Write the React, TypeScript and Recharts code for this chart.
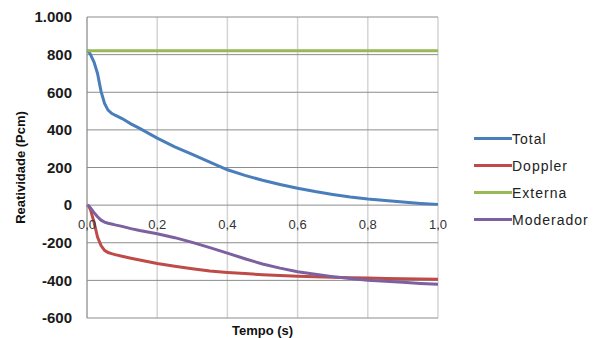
import React from 'react'
import {
  LineChart,
  Line,
  XAxis,
  YAxis,
  CartesianGrid,
  Legend,
} from 'recharts'

// tempo (s)
const tempo = [
  0, 0.005, 0.01, 0.02, 0.03, 0.04, 0.05, 0.06, 0.07, 0.08, 0.1, 0.125, 0.15,
  0.2, 0.25, 0.3, 0.35, 0.4, 0.45, 0.5, 0.55, 0.6, 0.65, 0.7, 0.75, 0.8, 0.85,
  0.9, 0.95, 1.0,
]

// reatividade (pcm)
const total = [
  820, 818, 800, 760, 700, 605, 540, 505, 488, 478, 460, 432, 408, 356, 310,
  270, 228, 188, 158, 132, 110, 90, 72, 57, 43, 32, 24, 16, 9, 4,
]
const doppler = [
  0, -5, -25, -90, -170, -215, -240, -252, -258, -263, -272, -282, -292, -310,
  -325, -338, -350, -358, -364, -370, -374, -378, -381, -384, -386, -388, -390,
  -392, -393, -394,
]
const externa = tempo.map(() => 820)
const moderador = [
  0, -5, -15, -40, -62, -80, -90, -96, -100, -105, -113, -125, -135, -152, -173,
  -198, -226, -255, -285, -313, -335, -354, -368, -380, -390, -399, -405, -410,
  -416, -420,
]

const seriesNames = ['Total', 'Doppler', 'Externa', 'Moderador']
const xTicks = [0, 0.2, 0.4, 0.6, 0.8, 1.0]
const yTicks = [-600, -400, -200, 0, 200, 400, 600, 800, 1000]

const data = tempo.map((t, i) => ({
  t,
  total: total[i],
  doppler: doppler[i],
  externa: externa[i],
  moderador: moderador[i],
}))

const PLOT_TOP = 17
const PLOT_H = 301
const ZERO_Y = PLOT_TOP + PLOT_H * (1000 / 1600)

const fmtX = (v: number) => v.toFixed(1).replace('.', ',')
const fmtY = (v: number) => (v === 1000 ? '1.000' : String(v))

const XTick = (props: any) => {
  const { x, y, payload } = props
  const shift = ZERO_Y - y + 24
  return (
    <text
      x={x}
      y={y + shift}
      textAnchor="middle"
      fill="#333"
      fontSize={13}
      fontFamily="Liberation Sans, Arial, sans-serif"
    >
      {fmtX(payload.value)}
    </text>
  )
}

const YTitle = (props: any) => {
  const { x, y, height } = props.viewBox
  const cx = x + 13
  const cy = y + height / 2
  return (
    <text
      x={cx}
      y={cy}
      transform={`rotate(-90, ${cx}, ${cy})`}
      textAnchor="middle"
      dominantBaseline="central"
      fontSize={13}
      fontWeight="bold"
      fill="#111"
      fontFamily="Liberation Sans, Arial, sans-serif"
    >
      Reatividade (Pcm)
    </text>
  )
}

const LegendBox = (props: any) => {
  const items = [...(props.payload || [])].sort(
    (a: any, b: any) => seriesNames.indexOf(a.value) - seriesNames.indexOf(b.value)
  )
  return (
    <div style={{ fontFamily: 'Liberation Sans, Arial, sans-serif' }}>
      {items.map((item: any) => (
        <div
          key={item.value}
          style={{ display: 'flex', alignItems: 'center', height: 27 }}
        >
          <span
            style={{ width: 38, height: 3, background: item.color, display: 'inline-block' }}
          />
          <span style={{ fontSize: 14, color: '#222', letterSpacing: 1 }}>{item.value}</span>
        </div>
      ))}
    </div>
  )
}

export default function App() {
  return (
    <div style={{ position: 'absolute', left: 0, top: 0, background: '#fff' }}>
      <LineChart
        width={597}
        height={338}
        data={data}
        margin={{ top: PLOT_TOP, right: 159, bottom: 0, left: 7 }}
      >
        <CartesianGrid horizontal={false} stroke="#d4d4d4" strokeWidth={1.5} />
        <CartesianGrid vertical={false} stroke="#8c8c8c" />
        <XAxis
          dataKey="t"
          type="number"
          domain={[0, 1]}
          ticks={xTicks}
          height={20}
          axisLine={false}
          tickLine={false}
          tickSize={0}
          tickMargin={0}
          tick={<XTick />}
          label={{
            value: 'Tempo (s)',
            position: 'insideBottom',
            offset: 3,
            fontSize: 13,
            fontWeight: 'bold',
            fill: '#111',
            fontFamily: 'Liberation Sans, Arial, sans-serif',
          }}
        />
        <YAxis
          type="number"
          domain={[-600, 1000]}
          ticks={yTicks}
          width={80}
          axisLine={{ stroke: '#8c8c8c' }}
          tickLine={false}
          tickSize={0}
          tickMargin={15}
          tickFormatter={fmtY}
          tick={{
            fill: '#1a1a1a',
            fontSize: 15,
            fontWeight: 'bold',
            fontFamily: 'Liberation Sans, Arial, sans-serif',
          }}
          label={<YTitle />}
        />
        <Legend
          layout="horizontal"
          verticalAlign="middle"
          align="center"
          content={<LegendBox />}
          wrapperStyle={{ left: 474, top: 125, width: 123 }}
        />
        <Line type="linear" dataKey="total" name="Total" stroke="#4a7ebb" strokeWidth={3} dot={false} isAnimationActive={false} />
        <Line type="linear" dataKey="doppler" name="Doppler" stroke="#be4b48" strokeWidth={3} dot={false} isAnimationActive={false} />
        <Line type="linear" dataKey="externa" name="Externa" stroke="#98b954" strokeWidth={3} dot={false} isAnimationActive={false} />
        <Line type="linear" dataKey="moderador" name="Moderador" stroke="#7d60a0" strokeWidth={3} dot={false} isAnimationActive={false} />
      </LineChart>
    </div>
  )
}
